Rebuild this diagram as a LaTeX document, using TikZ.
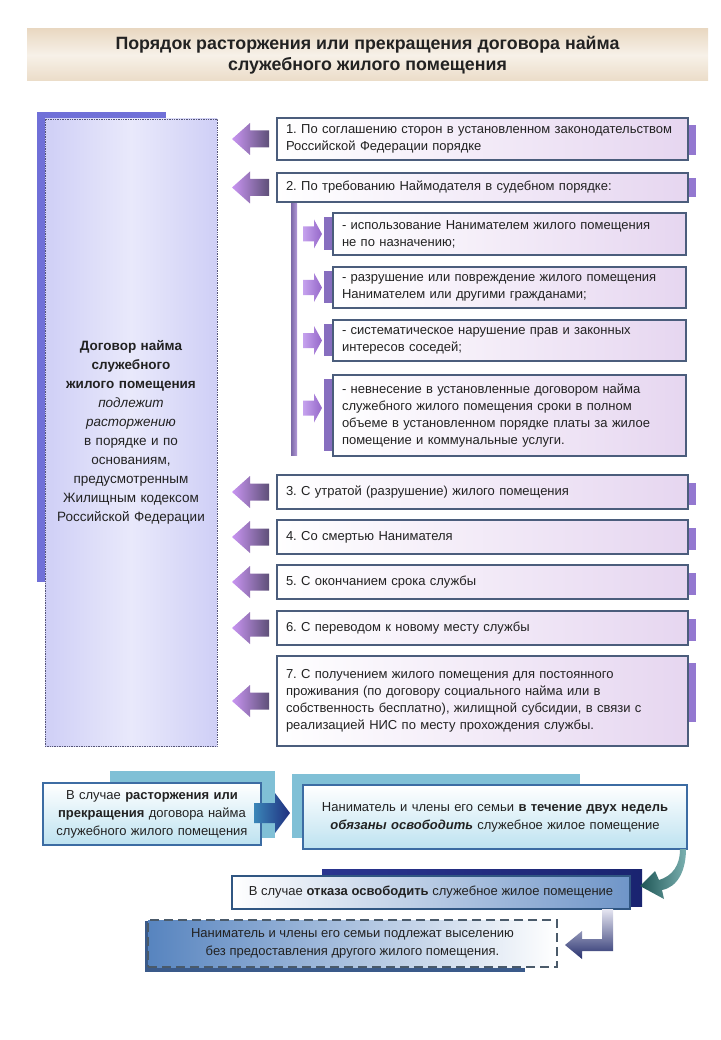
\documentclass[tikz,border=0pt]{standalone}
\usepackage{fontspec}
\setmainfont{Liberation Sans}
\usetikzlibrary{calc}
\pgfdeclarelayer{bg}
\pgfsetlayers{bg,main}
\definecolor{txt}{HTML}{222222}
\definecolor{boxc}{HTML}{4B5D7C}
\definecolor{boxr}{HTML}{E6D6F0}
\definecolor{ptab}{HTML}{9378D0}
\definecolor{arrL}{HTML}{C995F2}
\definecolor{arrR}{HTML}{5E5078}
\definecolor{sarrL}{HTML}{C6A2EE}
\definecolor{sarrR}{HTML}{9468C8}
\definecolor{barL}{HTML}{7A68A6}
\definecolor{barR}{HTML}{B49AD8}
\definecolor{lbfill}{HTML}{CFCFF6}
\definecolor{lbmid}{HTML}{E9E9FB}
\definecolor{lbtab}{HTML}{7070D8}
\definecolor{lbborder}{HTML}{555577}
\definecolor{tbT}{HTML}{E9D8C2}
\definecolor{tbM}{HTML}{F7F1E8}
\definecolor{tbB}{HTML}{EBDCC8}
\definecolor{bluec}{HTML}{3C6CA3}
\definecolor{bluebot}{HTML}{BDE2F0}
\definecolor{tealtab}{HTML}{80C0D6}
\definecolor{abL}{HTML}{3B86B8}
\definecolor{abR}{HTML}{1F2F7F}
\definecolor{navyL}{HTML}{2A3590}
\definecolor{navyR}{HTML}{1A2470}
\definecolor{cR}{HTML}{6F95C8}
\definecolor{cM}{HTML}{DCE6F3}
\definecolor{crvD}{HTML}{1E5555}
\definecolor{crvL}{HTML}{7AB0B0}
\definecolor{elbT}{HTML}{E6E6F2}
\definecolor{elbB}{HTML}{27306E}
\definecolor{dL}{HTML}{5784BF}
\definecolor{dM}{HTML}{B5CBE6}
\definecolor{dstrip}{HTML}{3A5A8A}
\definecolor{dash}{HTML}{4A5A6A}
\newcommand\mkleftarrow[1]{%
  \shade[left color=arrL, right color=arrR]
    ([xshift=-8pt,yshift=-8.5pt]#1.west) -- ++(-19,0) -- ++(0,7.5) -- ++(-18,-16)
    -- ++(18,-16) -- ++(0,7.5) -- ++(19,0) -- cycle;}
\newcommand\mkrightarrow[2]{%
  \shade[left color=sarrL, right color=sarrR]
    ([xshift=-11pt,yshift=#2]#1.west) -- ++(-8,-14.5) -- ++(0,7) -- ++(-11,0)
    -- ++(0,15) -- ++(11,0) -- ++(0,7) -- cycle;}
\newcommand\mkrtab[3]{%
  \fill[ptab] ([xshift=0.8pt,yshift=-#2]#1.north east) rectangle ([xshift=8pt,yshift=#3]#1.south east);}
\newcommand\mkltab[1]{%
  \fill[ptab!92!black] ([xshift=-9pt,yshift=-4pt]#1.north west) rectangle ([xshift=-0.8pt,yshift=5pt]#1.south west);}
\begin{document}
\frenchspacing
\begin{tikzpicture}[x=1pt,y=-1pt,
  every node/.style={text=txt, outer sep=0pt},
  itembox/.style={draw=boxc, line width=1.5pt, left color=white, right color=boxr,
    anchor=north west, inner xsep=9pt, inner ysep=1pt, align=left,
    font=\fontsize{13}{17}\selectfont},
  mainitem/.style={itembox, minimum width=411pt, text width=393pt},
  subitem/.style={itembox, minimum width=353pt, text width=335pt},
  bigbox/.style={draw=lbborder, densely dotted, line width=0.7pt, left color=lbfill,
    right color=lbfill, middle color=lbmid, anchor=north west, align=center,
    font=\fontsize{13.5}{19}\selectfont, inner sep=4pt},
  bluebox/.style={draw=bluec, line width=1.8pt, top color=white, bottom color=bluebot,
    anchor=north west, align=center, font=\fontsize{13}{18}\selectfont, inner sep=3pt},
  titleband/.style={top color=tbT, bottom color=tbB, middle color=tbM, anchor=north west,
    align=center, font=\bfseries\fontsize{17.8}{21}\selectfont, inner sep=0pt}
]
\useasboundingbox (0,0) rectangle (720,1040);

% title
\node[titleband, minimum width=681pt, minimum height=52pt] (title) at (27,29)
  {Порядок расторжения или прекращения договора найма\\служебного жилого помещения};

% left big box
\fill[lbtab] (37,112) rectangle (166,582);
\node[bigbox, minimum width=172pt, minimum height=627pt, text width=164pt] (lb) at (45,119)
  {\textbf{Договор найма}\\ \textbf{служебного}\\ \textbf{жилого помещения}\\
   \textit{подлежит}\\ \textit{расторжению}\\ в порядке и по\\ основаниям,\\
   предусмотренным\\ Жилищным кодексом\\ Российской Федерации};

% vertical bar
\shade[left color=barL, right color=barR] (291,202) rectangle (297,455);

% main items
\node[mainitem, minimum height=42pt] (b1) at (277,118)
  {1. По соглашению сторон в установленном законодательством\\Российской Федерации порядке};
\node[mainitem, minimum height=29pt] (b2) at (277,173)
  {2. По требованию Наймодателя в судебном порядке:};
\node[subitem, minimum height=42pt] (sa) at (333,213)
  {- использование Нанимателем жилого помещения\\не по назначению;};
\node[subitem, minimum height=41pt] (sb) at (333,267)
  {- разрушение или повреждение жилого помещения\\Нанимателем или другими гражданами;};
\node[subitem, minimum height=41pt] (sc) at (333,320)
  {- систематическое нарушение прав и законных\\интересов соседей;};
\node[subitem, minimum height=81pt] (sd) at (333,375)
  {- невнесение в установленные договором найма\\служебного жилого помещения сроки в полном\\объеме в установленном порядке платы за жилое\\помещение и коммунальные услуги.};
\node[mainitem, minimum height=34pt] (b3) at (277,475)
  {3. С утратой (разрушение) жилого помещения};
\node[mainitem, minimum height=34pt] (b4) at (277,520)
  {4. Со смертью Нанимателя};
\node[mainitem, minimum height=34pt] (b5) at (277,565)
  {5. С окончанием срока службы};
\node[mainitem, minimum height=34pt] (b6) at (277,611)
  {6. С переводом к новому месту службы};
\node[mainitem, minimum height=90pt] (b7) at (277,656)
  {7. С получением жилого помещения для постоянного\\проживания (по договору социального найма или в\\собственность бесплатно), жилищной субсидии, в связи с\\реализацией НИС по месту прохождения службы.};

% tabs
\mkrtab{b1}{7pt}{5pt}
\mkrtab{b2}{5pt}{5pt}
\mkrtab{b3}{8pt}{4pt}
\mkrtab{b4}{8pt}{4pt}
\mkrtab{b5}{8pt}{4pt}
\mkrtab{b6}{8pt}{4pt}
\mkrtab{b7}{7pt}{24pt}
\mkltab{sa}
\mkltab{sb}
\mkltab{sc}
\mkltab{sd}

% arrows to left box
\mkleftarrow{b1}
\mkleftarrow{b2}
\mkleftarrow{b3}
\mkleftarrow{b4}
\mkleftarrow{b5}
\mkleftarrow{b6}
\mkleftarrow{b7}
% arrows to sub items
\mkrightarrow{sa}{0pt}
\mkrightarrow{sb}{0pt}
\mkrightarrow{sc}{0pt}
\mkrightarrow{sd}{7.5pt}

% bottom part
\fill[tealtab] (110,771) rectangle (275,838);
\fill[tealtab] (292,774) rectangle (580,838);
\node[bluebox, minimum width=218pt, minimum height=62pt, text width=210pt] (ba) at (43,783)
  {В случае \textbf{расторжения или}\\ \textbf{прекращения} договора найма\\ служебного жилого помещения};
\node[bluebox, minimum width=384pt, minimum height=64pt, text width=376pt] (bb) at (303,785)
  {Наниматель и члены его семьи \textbf{в течение двух недель}\\ \textbf{\textit{обязаны освободить}} служебное жилое помещение};
% arrow A -> B
\shade[left color=abL, right color=abR]
  ([xshift=-7pt,yshift=-9pt]ba.east) -- ++(21,0) -- ++(0,10) -- ++(15,-20) -- ++(-15,-20)
  -- ++(0,10) -- ++(-21,0) -- cycle;

\shade[left color=navyL, right color=navyR] (322,869) rectangle (642,906);
\node[draw=bluec!80!black, line width=1.4pt, left color=white, middle color=cM, right color=cR,
  anchor=north west, minimum width=398pt, minimum height=33pt, inner sep=2pt,
  font=\fontsize{13}{17}\selectfont] (bc) at (232,876)
  {В случае \textbf{отказа освободить} служебное жилое помещение};
% curved arrow B -> C
\shade[left color=crvD, right color=crvL]
  (680,849) -- (686,849) .. controls (686,870) and (678,887) .. (662,890)
  -- (664,899) -- (640,886) -- (655,871) -- (659,880)
  .. controls (672,876) and (680,866) .. (680,849) -- cycle;

% box D
\fill[dstrip] (145,921) rectangle (151,972);
\fill[dstrip] (145,966) rectangle (525,972);
\node[draw=dash, dashed, dash pattern=on 9pt off 5pt, line width=1.5pt, left color=dL,
  middle color=dM, right color=white, anchor=north west, minimum width=409pt,
  minimum height=47pt, align=center, inner sep=2pt,
  font=\fontsize{13}{18}\selectfont] (bd) at (148,920)
  {Наниматель и члены его семьи подлежат выселению\\ без предоставления другого жилого помещения.};
% elbow arrow C -> D
\shade[top color=elbT, bottom color=elbB]
  (602,909) -- (613,909) -- (613,951) -- (582,951) -- (582,959) -- (565,945)
  -- (582,931) -- (582,939) -- (602,939) -- cycle;
\end{tikzpicture}
\end{document}
